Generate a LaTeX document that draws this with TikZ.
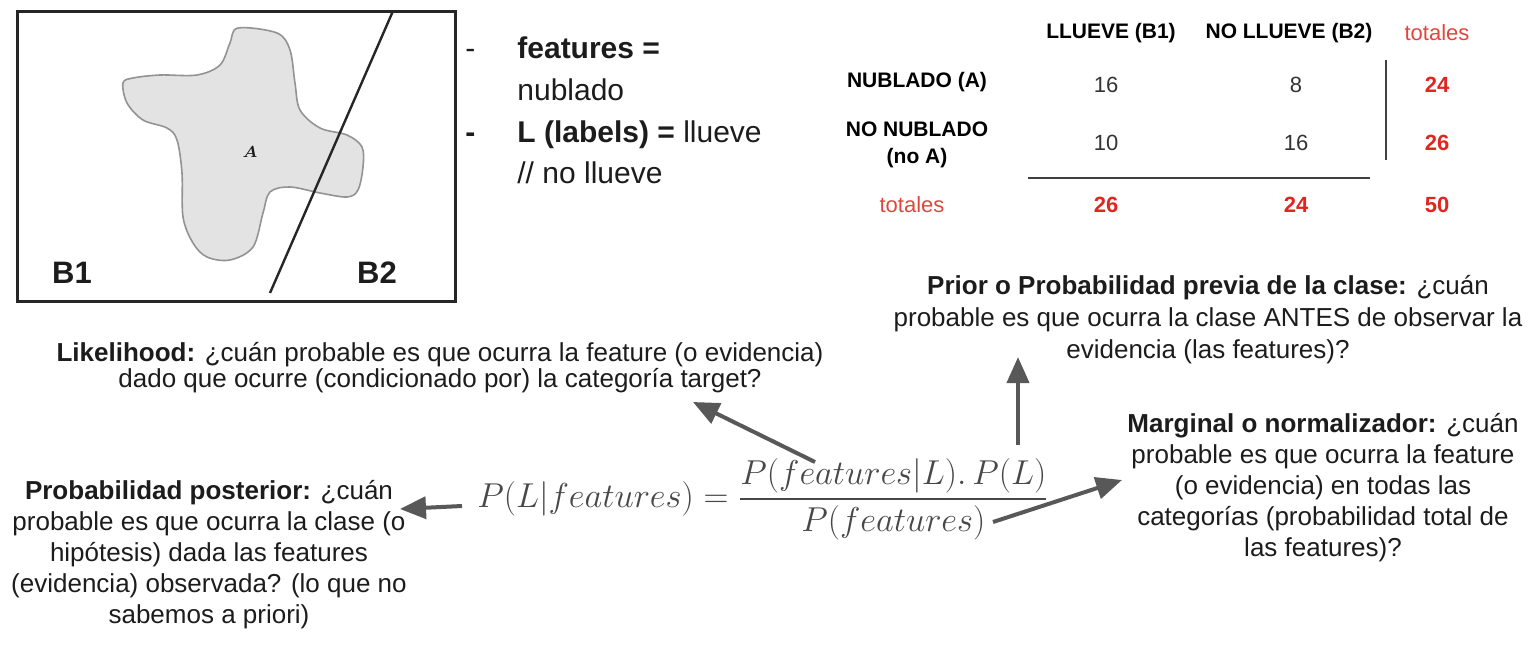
\documentclass[tikz,border=0pt]{standalone}
\usepackage{fontspec}
\setmainfont{Liberation Sans}
\usepackage{amsmath}
\usetikzlibrary{arrows.meta}
\definecolor{rojo}{RGB}{225,38,32}
\definecolor{rojoclaro}{RGB}{228,68,62}
\definecolor{gris}{RGB}{88,88,88}
\definecolor{formula}{RGB}{72,72,72}
\definecolor{texto}{RGB}{28,28,28}

\begin{document}
\begin{tikzpicture}[>={Triangle[length=13pt, width=11pt]}, x=0.5pt, y=-0.5pt, text=texto, font=\fontsize{13}{16}\selectfont]
    % Estilos
    \tikzstyle{parrafo}=[align=center, inner sep=0pt]
    \tikzstyle{linea}=[anchor=base west, inner sep=0pt, font=\fontsize{15}{21}\selectfont]
    \tikzstyle{celda}=[inner sep=0pt, font=\fontsize{10.5}{13.5}\selectfont\bfseries, text=black]
    \tikzstyle{numero}=[inner sep=0pt, font=\fontsize{11}{13}\selectfont, text=black!80]
    \tikzstyle{total}=[inner sep=0pt, font=\fontsize{11}{13}\selectfont\bfseries, text=rojo]
    \tikzstyle{flecha}=[->, line width=2pt, draw=gris, fill=gris]

    \useasboundingbox (0,0) rectangle (1538,653);

    % Conjunto A y particion B1 / B2
    \draw[fill=gray!22, draw=gray!85, line width=0.8pt] plot[smooth cycle, tension=0.55] coordinates {
        (238,28) (277,33) (290,50) (295,83) (300,110) (320,128) (347,135) (362,147)
        (363,167) (358,190) (347,197) (320,193) (290,187) (270,192) (263,213) (253,247)
        (230,260) (207,257) (193,243) (183,217) (182,173) (177,140) (167,128) (143,120)
        (127,103) (123,83) (133,78) (160,75) (197,75) (220,65) (230,43)};
    \draw[line width=1.5pt, draw=black!85] (17,11) rectangle (455,301);
    \draw[line width=1.2pt, draw=black!85] (393,11) -- (270,293);
    \node (A) at (250,152) {\fontsize{8}{8}\selectfont$\boldsymbol{A}$};
    \node[font=\fontsize{15.5}{16}\selectfont\bfseries] (B1) at (72,273) {B1};
    \node[font=\fontsize{15.5}{16}\selectfont\bfseries] (B2) at (377,273) {B2};

    % Features y labels
    \node[linea] (g1) at (465,58) {-};
    \node[linea] (f1) at (517,58) {\textbf{features =}};
    \node[linea] (f2) at (517,100) {nublado};
    \node[linea] (g2) at (465,142) {\textbf{-}};
    \node[linea] (f3) at (517,142) {\textbf{L (labels) =} llueve};
    \node[linea] (f4) at (517,183) {// no llueve};

    % Tabla de contingencia
    \node[celda] (hB1) at (1111,33) {LLUEVE (B1)};
    \node[celda] (hB2) at (1289,33) {NO LLUEVE (B2)};
    \node[numero, text=rojoclaro] (hT) at (1437,33) {totales};
    \node[celda] (rA) at (917,82) {NUBLADO (A)};
    \node[celda, align=center] (rNA) at (917,145) {NO NUBLADO\\(no A)};
    \node[numero, text=rojoclaro] (rT) at (912,205) {totales};
    \node[numero] (nAB1) at (1106,85) {16};
    \node[numero] (nAB2) at (1296,85) {8};
    \node[numero] (nNB1) at (1106,143) {10};
    \node[numero] (nNB2) at (1296,143) {16};
    \node[total] (tA) at (1437,85) {24};
    \node[total] (tN) at (1437,143) {26};
    \node[total] (tB1) at (1106,205) {26};
    \node[total] (tB2) at (1296,205) {24};
    \node[total] (tT) at (1437,205) {50};
    \draw[line width=1pt, draw=black!75] (1028,178) -- (1370,178);
    \draw[line width=1pt, draw=black!75] (1386,60) -- (1386,160);

    % Textos explicativos
    \node[parrafo, font=\fontsize{13}{13}\selectfont] (like) at (440,368)
        {\textbf{Likelihood:} ¿cuán probable es que ocurra la feature (o evidencia)\\
         dado que ocurre (condicionado por) la categoría target?};
    \node[parrafo, font=\fontsize{13}{16}\selectfont] (prior) at (1208,320)
        {\textbf{Prior o Probabilidad previa de la clase:} ¿cuán\\
         probable es que ocurra la clase ANTES de observar la\\
         evidencia (las features)?};
    \node[parrafo, font=\fontsize{13}{15.5}\selectfont] (marg) at (1323,488)
        {\textbf{Marginal o normalizador:} ¿cuán\\
         probable es que ocurra la feature\\
         (o evidencia) en todas las\\
         categorías (probabilidad total de\\
         las features)?};
    \node[parrafo, font=\fontsize{13}{15.5}\selectfont] (post) at (209,555)
        {\textbf{Probabilidad posterior:} ¿cuán\\
         probable es que ocurra la clase (o\\
         hipótesis) dada las features\\
         (evidencia) observada? (lo que no\\
         sabemos a priori)};

    % Teorema de Bayes
    \node[text=formula, font=\fontsize{17}{20}\selectfont] (bayes) at (763,499)
        {$P(L|features) = \dfrac{P(features|L).\,P(L)}{P(features)}$};

    % Flechas
    \coordinate (cPost) at (462,506);
    \coordinate (pPost) at (400,509);
    \coordinate (cLike) at (815,462);
    \coordinate (pLike) at (693,402);
    \coordinate (cPrior) at (1018,445);
    \coordinate (pPrior) at (1018,357);
    \coordinate (cMarg) at (993,522);
    \coordinate (pMarg) at (1122,480);
    \draw[flecha] (cPost) -- (pPost);
    \draw[flecha] (cLike) -- (pLike);
    \draw[flecha] (cPrior) -- (pPrior);
    \draw[flecha] (cMarg) -- (pMarg);

\end{tikzpicture}
\end{document}
